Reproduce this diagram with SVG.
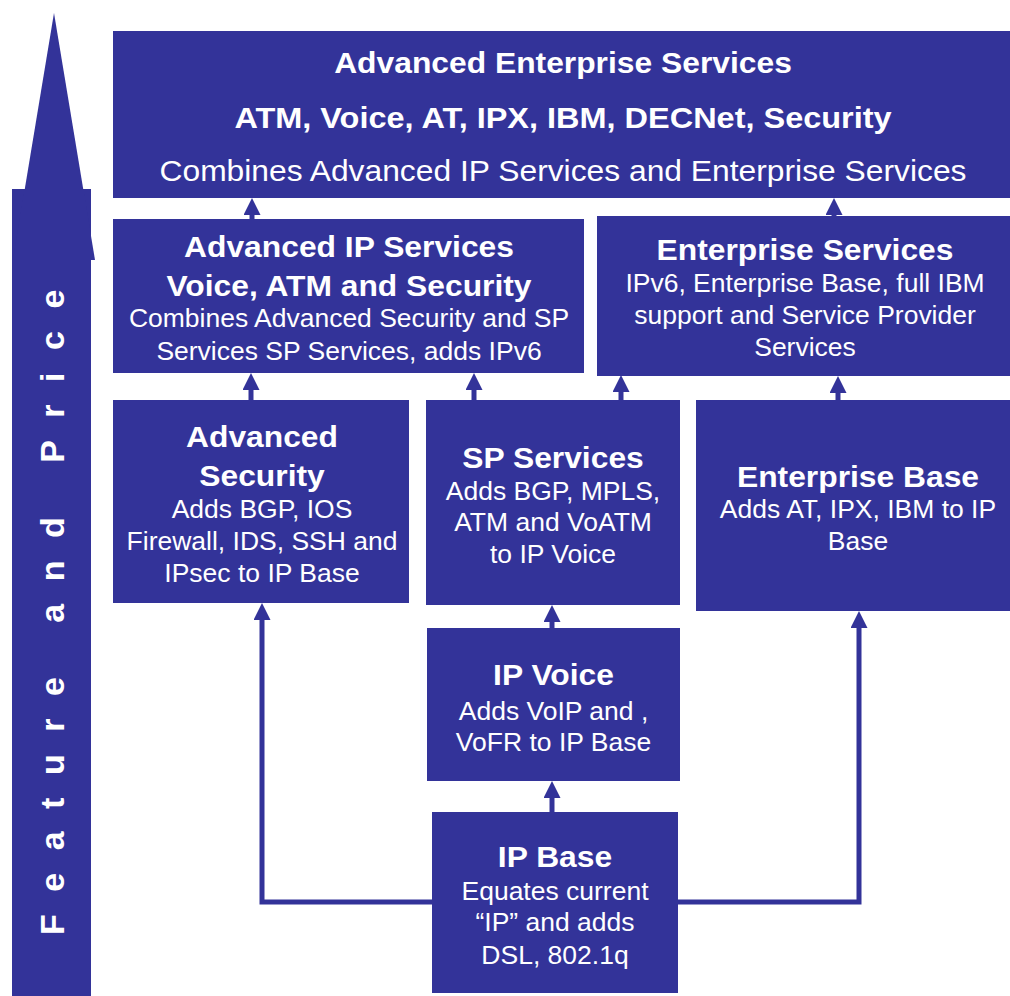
<svg xmlns="http://www.w3.org/2000/svg" width="1010" height="996" viewBox="0 0 1010 996">
<style>
.box{fill:#333399}
.t{font-family:"Liberation Sans",Arial,sans-serif;fill:#ffffff;text-anchor:middle}
.b{font-weight:bold;font-size:30px}
.r{font-size:25px}
.r30{font-size:30px}
.con{fill:none;stroke:#333399;stroke-width:5}
</style>
<defs>
<marker id="ah" markerUnits="userSpaceOnUse" markerWidth="18" markerHeight="18" refX="0" refY="8.5" orient="auto">
<path d="M0,0 L17,8.5 L0,17 z" fill="#333399"/>
</marker>
</defs>
<rect width="1010" height="996" fill="#ffffff"/>
<g id="axis">
<rect class="box" x="12" y="189" width="79" height="807"/>
<polygon class="box" points="54,13 95,260 13,260"/>
<text class="t" transform="translate(64 935) rotate(-90)" style="text-anchor:start;font-weight:bold;font-size:34px;letter-spacing:22.5px">Feature and Price</text>
</g>
<g id="connectors">
<line class="con" x1="252" y1="219" x2="252" y2="215" marker-end="url(#ah)"/>
<line class="con" x1="834" y1="216" x2="834" y2="215" marker-end="url(#ah)"/>
<line class="con" x1="251" y1="400" x2="251" y2="390" marker-end="url(#ah)"/>
<line class="con" x1="474" y1="400" x2="474" y2="390" marker-end="url(#ah)"/>
<line class="con" x1="621" y1="400" x2="621" y2="392" marker-end="url(#ah)"/>
<line class="con" x1="838" y1="400" x2="838" y2="393" marker-end="url(#ah)"/>
<line class="con" x1="552" y1="628" x2="552" y2="622" marker-end="url(#ah)"/>
<line class="con" x1="552" y1="812" x2="552" y2="798" marker-end="url(#ah)"/>
<path class="con" d="M432,902 H262 V620" marker-end="url(#ah)"/>
<path class="con" d="M678,902 H859 V628" marker-end="url(#ah)"/>
</g>
<g id="advanced-enterprise-services">
<rect class="box" x="113" y="31" width="897" height="167"/>
<g transform="translate(563 0) scale(1.06 1)">
<text class="t b" x="0" y="73">Advanced Enterprise Services</text>
<text class="t b" x="0" y="128" textLength="620" lengthAdjust="spacingAndGlyphs">ATM, Voice, AT, IPX, IBM, DECNet, Security</text>
<text class="t r30" x="0" y="181">Combines Advanced IP Services and Enterprise Services</text>
</g>
</g>
<g id="advanced-ip-services">
<rect class="box" x="113" y="219" width="471" height="154"/>
<g transform="translate(349 0) scale(1.06 1)">
<text class="t b" x="0" y="257">Advanced IP Services</text>
<text class="t b" x="0" y="296">Voice, ATM and Security</text>
<text class="t r" x="0" y="327">Combines Advanced Security and SP</text>
<text class="t r" x="0" y="360">Services SP Services, adds IPv6</text>
</g>
</g>
<g id="enterprise-services">
<rect class="box" x="597" y="216" width="413" height="160"/>
<g transform="translate(805 0) scale(1.06 1)">
<text class="t b" x="0" y="260">Enterprise Services</text>
<text class="t r" x="0" y="292">IPv6, Enterprise Base, full IBM</text>
<text class="t r" x="0" y="324">support and Service Provider</text>
<text class="t r" x="0" y="356">Services</text>
</g>
</g>
<g id="advanced-security">
<rect class="box" x="113" y="400" width="296" height="203"/>
<g transform="translate(262 0) scale(1.06 1)">
<text class="t b" x="0" y="447">Advanced</text>
<text class="t b" x="0" y="486">Security</text>
<text class="t r" x="0" y="518">Adds BGP, IOS</text>
<text class="t r" x="0" y="550">Firewall, IDS, SSH and</text>
<text class="t r" x="0" y="582">IPsec to IP Base</text>
</g>
</g>
<g id="sp-services">
<rect class="box" x="426" y="400" width="254" height="205"/>
<g transform="translate(553 0) scale(1.06 1)">
<text class="t b" x="0" y="468">SP Services</text>
<text class="t r" x="0" y="500">Adds BGP, MPLS,</text>
<text class="t r" x="0" y="531">ATM and VoATM</text>
<text class="t r" x="0" y="563">to IP Voice</text>
</g>
</g>
<g id="enterprise-base">
<rect class="box" x="696" y="400" width="314" height="211"/>
<g transform="translate(858 0) scale(1.06 1)">
<text class="t b" x="0" y="487">Enterprise Base</text>
<text class="t r" x="0" y="518">Adds AT, IPX, IBM to IP</text>
<text class="t r" x="0" y="550">Base</text>
</g>
</g>
<g id="ip-voice">
<rect class="box" x="427" y="628" width="253" height="153"/>
<g transform="translate(553.5 0) scale(1.06 1)">
<text class="t b" x="0" y="685">IP Voice</text>
<text class="t r" x="0" y="720">Adds VoIP and ,</text>
<text class="t r" x="0" y="751">VoFR to IP Base</text>
</g>
</g>
<g id="ip-base">
<rect class="box" x="432" y="812" width="246" height="181"/>
<g transform="translate(555 0) scale(1.06 1)">
<text class="t b" x="0" y="867">IP Base</text>
<text class="t r" x="0" y="900">Equates current</text>
<text class="t r" x="0" y="931">“IP” and adds</text>
<text class="t r" x="0" y="964">DSL, 802.1q</text>
</g>
</g>
</svg>
